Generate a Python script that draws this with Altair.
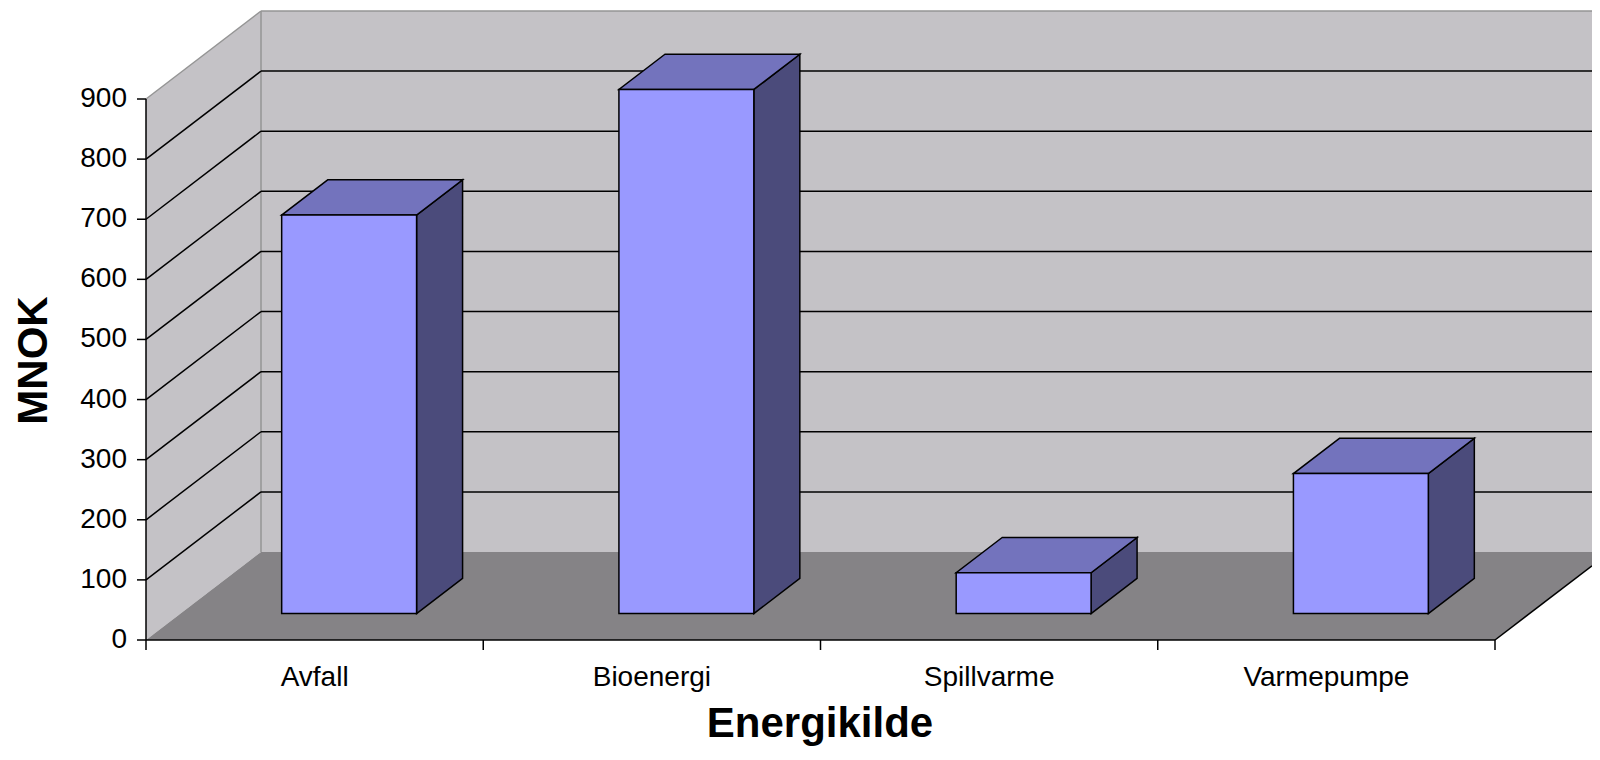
import altair as alt
import pandas as pd

# ---------------- data ----------------
categories = ["Avfall", "Bioenergi", "Spillvarme", "Varmepumpe"]
values = [663, 872, 68, 233]
y_ticks = [0, 100, 200, 300, 400, 500, 600, 700, 800, 900]
x_title = "Energikilde"
y_title = "MNOK"

# ---------------- geometry ----------------
N = len(categories)
W, H = 1446, 629            # plot area in px
PX_PER_U = 337.25           # px per category band
PX_PER_V = 0.6011           # px per value unit
XMAX = W / PX_PER_U
YMAX = H / PX_PER_V
YTOP = y_ticks[-1]
DX = 115 / PX_PER_U         # depth shift (x, data units)
DY = YMAX - YTOP            # depth shift (y, data units)
BW = 0.4
D0, D1 = 0.3, 0.7
YC = DY * (XMAX - N) / DX   # height where floor right edge leaves the plot

FONT = "Liberation Sans"

# ---------------- tables ----------------
front = pd.DataFrame({
    "cat": categories,
    "x0": [i + 0.5 - BW / 2 + D0 * DX for i in range(N)],
    "x1": [i + 0.5 + BW / 2 + D0 * DX for i in range(N)],
    "y0": [D0 * DY] * N,
    "y1": [v + D0 * DY for v in values],
})

top_rows, side_rows = [], []
for i, (c, v) in enumerate(zip(categories, values)):
    for d in (D0, D1):
        top_rows.append({"id": c, "y": v + d * DY,
                         "xa": i + 0.5 - BW / 2 + d * DX,
                         "xb": i + 0.5 + BW / 2 + d * DX})
        side_rows.append({"id": c, "x": i + 0.5 + BW / 2 + d * DX,
                          "ya": d * DY, "yb": v + d * DY})
top = pd.DataFrame(top_rows)
side = pd.DataFrame(side_rows)

back_wall = pd.DataFrame({"x0": [DX], "x1": [XMAX], "y0": [DY], "y1": [YTOP + DY]})
left_wall = pd.DataFrame({"id": ["w", "w"], "x": [0, DX], "ya": [0, DY], "yb": [YTOP, YTOP + DY]})
floor = pd.DataFrame({"id": ["f", "f", "f"], "y": [0, YC, DY],
                      "xa": [0, YC / DY * DX, DX], "xb": [N, XMAX, XMAX]})

black_seg = []
for v in y_ticks[1:-1]:
    black_seg.append((DX, v + DY, XMAX, v + DY))
    black_seg.append((0, v, DX, v + DY))
black_seg.append((N, 0, XMAX, YC))
black_seg = pd.DataFrame(black_seg, columns=["x", "y", "x2", "y2"])

gray_seg = pd.DataFrame([
    (DX, YTOP + DY, XMAX, YTOP + DY),
    (0, YTOP, DX, YTOP + DY),
    (DX, DY, DX, YTOP + DY),
], columns=["x", "y", "x2", "y2"])

axis_seg = pd.DataFrame([
    (0, 0, N, 0),
    (0, 0, 0, YTOP),
], columns=["x", "y", "x2", "y2"])

# axis ticks / labels built from the arrays above
y_tick_df = pd.DataFrame({"v": y_ticks, "z": [0] * len(y_ticks),
                          "label": [str(v) for v in y_ticks]})
x_tick_df = pd.DataFrame({"t": list(range(N + 1)), "z": [0] * (N + 1)})
x_lab_df = pd.DataFrame({"c": [i + 0.5 for i in range(N)], "z": [0] * N,
                         "label": categories})
x_title_df = pd.DataFrame({"c": [(820 - 146) / PX_PER_U], "z": [0], "label": [x_title]})
y_title_df = pd.DataFrame({"x": [-112 / PX_PER_U], "y": [(640 - 360.5) / PX_PER_V],
                           "label": [y_title]})

# ---------------- scales ----------------
xs = alt.Scale(domain=[0, XMAX], nice=False, zero=False)
ys = alt.Scale(domain=[0, YMAX], nice=False, zero=False)


def X(f, **kw):
    return alt.X(f, scale=xs, axis=None, **kw)


def Y(f, **kw):
    return alt.Y(f, scale=ys, axis=None, **kw)


WALL = "#c4c2c6"
FLOOR = "#858386"
EDGE = "#959595"
FRONT = "#9999ff"
TOPC = "#7373bd"
SIDEC = "#4b4b7b"

back_layer = alt.Chart(back_wall).mark_rect(fill=WALL).encode(
    x=X("x0:Q"), x2="x1:Q", y=Y("y0:Q"), y2="y1:Q",
)

left_layer = alt.Chart(left_wall).mark_area(fill=WALL).encode(
    x=X("x:Q"), y=Y("ya:Q", stack=None), y2="yb:Q", detail="id:N",
)

floor_layer = alt.Chart(floor).mark_area(fill=FLOOR, orient="horizontal").encode(
    y=Y("y:Q"), x=X("xa:Q", stack=None), x2="xb:Q", detail="id:N",
)

gray_layer = alt.Chart(gray_seg).mark_rule(color=EDGE, strokeWidth=1.5).encode(
    x=X("x:Q"), x2="x2:Q", y=Y("y:Q"), y2="y2:Q",
)

black_layer = alt.Chart(black_seg).mark_rule(color="black", strokeWidth=1.5).encode(
    x=X("x:Q"), x2="x2:Q", y=Y("y:Q"), y2="y2:Q",
)

side_layer = alt.Chart(side).mark_area(fill=SIDEC, stroke="black", strokeWidth=1.5).encode(
    x=X("x:Q"), y=Y("ya:Q", stack=None), y2="yb:Q", detail="id:N",
)

top_layer = alt.Chart(top).mark_area(fill=TOPC, stroke="black", strokeWidth=1.5,
                                     orient="horizontal").encode(
    y=Y("y:Q"), x=X("xa:Q", stack=None), x2="xb:Q", detail="id:N",
)

front_layer = alt.Chart(front).mark_rect(fill=FRONT, stroke="black", strokeWidth=1.5).encode(
    x=X("x0:Q"), x2="x1:Q", y=Y("y0:Q"), y2="y1:Q",
)

axis_layer = alt.Chart(axis_seg).mark_rule(color="black", strokeWidth=1.5).encode(
    x=X("x:Q"), x2="x2:Q", y=Y("y:Q"), y2="y2:Q",
)

y_tick_layer = alt.Chart(y_tick_df).mark_rule(color="black", strokeWidth=1.5, x2Offset=-9).encode(
    x=X("z:Q"), x2="z:Q", y=Y("v:Q"),
)
y_lab_layer = alt.Chart(y_tick_df).mark_text(
    align="right", baseline="middle", dx=-19, fontSize=28, font=FONT, color="black",
).encode(x=X("z:Q"), y=Y("v:Q"), text="label:N")

x_tick_layer = alt.Chart(x_tick_df).mark_rule(color="black", strokeWidth=1.5, y2Offset=10).encode(
    x=X("t:Q"), y=Y("z:Q"), y2="z:Q",
)
x_lab_layer = alt.Chart(x_lab_df).mark_text(
    align="center", baseline="top", dy=24, fontSize=28, font=FONT, color="black",
).encode(x=X("c:Q"), y=Y("z:Q"), text="label:N")

x_title_layer = alt.Chart(x_title_df).mark_text(
    align="center", baseline="alphabetic", dy=97, fontSize=42, fontWeight="bold",
    font=FONT, color="black",
).encode(x=X("c:Q"), y=Y("z:Q"), text="label:N")

y_title_layer = alt.Chart(y_title_df).mark_text(
    align="center", baseline="middle", angle=270, fontSize=42, fontWeight="bold",
    font=FONT, color="black",
).encode(x=X("x:Q"), y=Y("y:Q"), text="label:N")

chart = alt.layer(
    back_layer, left_layer, floor_layer, gray_layer, black_layer,
    side_layer, top_layer, front_layer, axis_layer,
    y_tick_layer, y_lab_layer, x_tick_layer, x_lab_layer,
    x_title_layer, y_title_layer,
).properties(
    width=W, height=H,
    autosize=alt.AutoSizeParams(type="none"),
    padding={"left": 138, "top": 3, "right": 0, "bottom": 106},
    background="white",
).configure(font=FONT).configure_view(stroke=None)

chart.save("out.html", embed_options={"renderer": "svg", "actions": False})
